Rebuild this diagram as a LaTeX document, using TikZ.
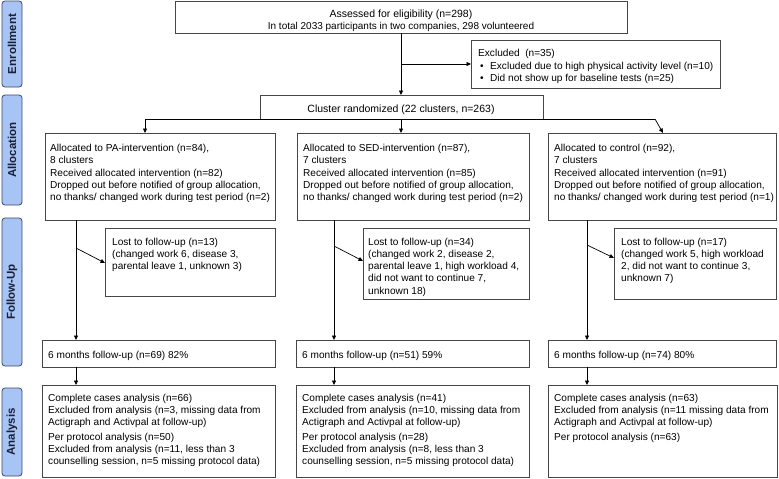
\documentclass[tikz,border=0pt]{standalone}
\usepackage{fontspec}
\setmainfont{Liberation Sans}
\usetikzlibrary{arrows.meta,fit}
\definecolor{sidefill}{RGB}{168,196,245}
\definecolor{sidedraw}{RGB}{60,72,100}
\definecolor{sidetext}{RGB}{25,32,55}
\definecolor{boxline}{RGB}{70,70,70}
\begin{document}
\begin{tikzpicture}[x=1pt,y=-1pt,
  box/.style={draw=boxline,line width=0.8pt,inner sep=0pt,outer sep=0pt},
  txt/.style={inner sep=0pt,align=left,font=\fontsize{10.1}{12.3}\selectfont,anchor=north west,
    execute at begin node={\rule{0pt}{8pt}}},
  ctxt/.style={inner sep=0pt,align=center,font=\fontsize{10.5}{12.3}\selectfont,anchor=north,
    execute at begin node={\rule{0pt}{8pt}}},
  side/.style={draw=sidedraw,fill=sidefill,rounded corners=3pt,line width=0.8pt,inner sep=0pt},
  sidetxt/.style={rotate=90,inner sep=0pt,font=\bfseries\fontsize{11.5}{12}\selectfont,text=sidetext},
  arr/.style={-{Triangle[length=4.5pt,width=4pt]},line width=0.7pt},
  ln/.style={line width=0.7pt}]
\useasboundingbox (0,0) rectangle (779,479);

% side labels
\node[side,fit={(2,1)(22,87)}] (enr) {};
\node[sidetxt] (enr-t) at (enr.center) {Enrollment};
\node[side,fit={(2,95)(22,205)}] (alo) {};
\node[sidetxt] (alo-t) at (alo.center) {Allocation};
\node[side,fit={(2,218)(22,366)}] (fol) {};
\node[sidetxt] (fol-t) at (fol.center) {Follow-Up};
\node[side,fit={(2,388)(22,476)}] (ana) {};
\node[sidetxt] (ana-t) at (ana.center) {Analysis};

% boxes
\node[box,fit={(175,1)(627,33)}] (assess) {};
\node[ctxt] (assess-t) at (401,10) {Assessed for eligibility (n=298)\\[-0.3pt]
  \fontsize{10}{12}\selectfont In total 2033 participants in two companies, 298 volunteered};
\node[box,fit={(471,40)(720,88)}] (excl) {};
\node[txt,font=\fontsize{10.1}{12.5}\selectfont] (excl-t) at (478,49) {Excluded\ \ (n=35)\\
  \hspace*{2pt}\makebox[10pt][l]{•}Excluded due to high physical activity level (n=10)\\
  \hspace*{2pt}\makebox[10pt][l]{•}Did not show up for baseline tests (n=25)};
\node[box,fit={(260,95)(543,119)}] (clus) {};
\node[ctxt] (clus-t) at (401,104) {Cluster randomized (22 clusters, n=263)};

\node[box,fit={(45,133)(275,220)}] (pa) {};
\node[txt] (pa-t) at (50,144) {Allocated to PA-intervention (n=84),\\ 8 clusters\\ Received allocated intervention (n=82)\\ Dropped out before notified of group allocation,\\ no thanks/ changed work during test period (n=2)};
\node[box,fit={(297,133)(529,220)}] (sed) {};
\node[txt] (sed-t) at (303,144) {Allocated to SED-intervention (n=87),\\ 7 clusters\\ Received allocated intervention (n=85)\\ Dropped out before notified of group allocation,\\ no thanks/ changed work during test period (n=2)};
\node[box,fit={(548,133)(776,220)}] (ctl) {};
\node[txt] (ctl-t) at (554,144) {Allocated to control (n=92),\\ 7 clusters\\ Received allocated intervention (n=91)\\ Dropped out before notified of group allocation,\\ no thanks/ changed work during test period (n=1)};

\node[box,fit={(105,228)(275,296)}] (lpa) {};
\node[txt] (lpa-t) at (112,237.5) {Lost to follow-up (n=13)\\ (changed work 6, disease 3,\\ parental leave 1, unknown 3)};
\node[box,fit={(363,228)(529,299)}] (lsed) {};
\node[txt] (lsed-t) at (368,237.5) {Lost to follow-up (n=34)\\ (changed work 2, disease 2,\\ parental leave 1, high workload 4,\\ did not want to continue 7,\\ unknown 18)};
\node[box,fit={(614,228)(776,299)}] (lctl) {};
\node[txt] (lctl-t) at (621,237.5) {Lost to follow-up (n=17)\\ (changed work 5, high workload\\ 2, did not want to continue 3,\\ unknown 7)};

\node[box,fit={(42,340)(275,367)}] (fpa) {};
\node[txt] (fpa-t) at (48,350) {6 months follow-up (n=69) 82\%};
\node[box,fit={(296,340)(529,367)}] (fsed) {};
\node[txt] (fsed-t) at (302,350) {6 months follow-up (n=51) 59\%};
\node[box,fit={(548,340)(776,367)}] (fctl) {};
\node[txt] (fctl-t) at (554,350) {6 months follow-up (n=74) 80\%};

\node[box,fit={(42,385)(275,477)}] (apa) {};
\node[txt,font=\fontsize{10.1}{12}\selectfont] (apa-t) at (48,393.5) {Complete cases analysis (n=66)\\ Excluded from analysis (n=3, missing data from\\ Actigraph and Activpal at follow-up)\\[3pt] Per protocol analysis (n=50)\\ Excluded from analysis (n=11, less than 3\\ counselling session, n=5 missing protocol data)};
\node[box,fit={(296,385)(529,477)}] (ased) {};
\node[txt,font=\fontsize{10.1}{12}\selectfont] (ased-t) at (302,393.5) {Complete cases analysis (n=41)\\ Excluded from analysis (n=10, missing data from\\ Actigraph and Activpal at follow-up)\\[3pt] Per protocol analysis (n=28)\\ Excluded from analysis (n=8, less than 3\\ counselling session, n=5 missing protocol data)};
\node[box,fit={(548,385)(777,477)}] (actl) {};
\node[txt,font=\fontsize{10.1}{12}\selectfont] (actl-t) at (554,393.5) {Complete cases analysis (n=63)\\ Excluded from analysis (n=11 missing data from\\ Actigraph and Activpal at follow-up)\\[3pt] Per protocol analysis (n=63)};

% helper coordinates
\coordinate (dn) at (401,0);
\coordinate (br) at (401,64);
\coordinate (xL) at (145,0);
\coordinate (xR) at (655,0);
\coordinate (cR) at (663,0);
\coordinate (xA) at (76,0);
\coordinate (xB) at (334,0);
\coordinate (xC) at (587,0);
\coordinate (sA) at (76,248);
\coordinate (sB) at (334,246);
\coordinate (sC) at (587,245);
\coordinate (eA) at (0,263);
\coordinate (eB) at (0,261);
\coordinate (eC) at (0,258);

% connectors
\draw[arr] (assess.south -| dn) -- (clus.north -| dn);
\draw[arr] (br) -- (excl.west);
\draw[ln] (clus.south -| xL) -- (clus.south -| xR);
\draw[arr] (clus.south -| xL) -- (pa.north -| xL);
\draw[arr] (clus.south -| dn) -- (sed.north -| dn);
\draw[arr] (clus.south -| xR) -- (ctl.north -| cR);

\draw[arr] (pa.south -| xA) -- (fpa.north -| xA);
\draw[arr] (sA) -- (lpa.west |- eA);
\draw[arr] (fpa.south -| xA) -- (apa.north -| xA);

\draw[arr] (sed.south -| xB) -- (fsed.north -| xB);
\draw[arr] (sB) -- (lsed.west |- eB);
\draw[arr] (fsed.south -| xB) -- (ased.north -| xB);

\draw[arr] (ctl.south -| xC) -- (fctl.north -| xC);
\draw[arr] (sC) -- (lctl.west |- eC);
\draw[arr] (fctl.south -| xC) -- (actl.north -| xC);
\end{tikzpicture}
\end{document}
